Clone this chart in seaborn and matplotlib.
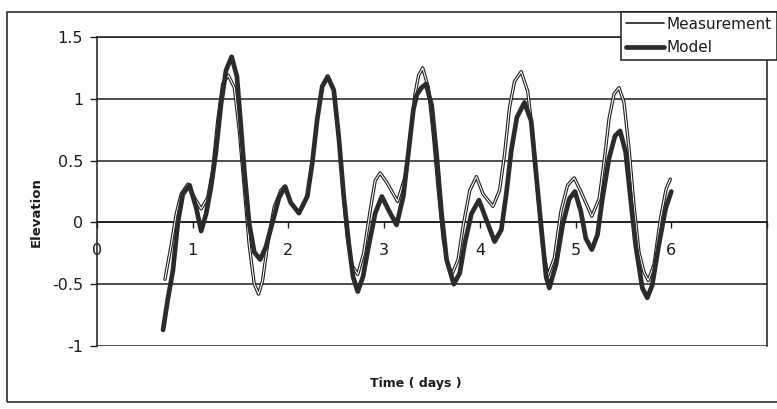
import numpy as np
import pandas as pd
import matplotlib
matplotlib.use("Agg")
import matplotlib.pyplot as plt
import matplotlib.patheffects as pe
from matplotlib.lines import Line2D
from matplotlib.patches import Rectangle
import seaborn as sns

# Measured water elevation (time in days, elevation)
meas_t = [0.71, 0.776, 0.828, 0.88, 0.95, 1.018, 1.088, 1.157, 1.209, 1.261,
          1.313, 1.372, 1.435, 1.487, 1.539, 1.59, 1.643, 1.688, 1.73, 1.782,
          1.85, 1.92, 1.96, 2.024, 2.11, 2.197, 2.249, 2.30, 2.353, 2.41,
          2.474, 2.526, 2.578, 2.613, 2.665, 2.724, 2.786, 2.855, 2.907, 2.959,
          3.03, 3.14, 3.219, 3.271, 3.323, 3.36, 3.403, 3.462, 3.514, 3.566,
          3.618, 3.67, 3.714, 3.773, 3.825, 3.895, 3.964, 4.033, 4.137, 4.206,
          4.258, 4.31, 4.362, 4.432, 4.50, 4.553, 4.605, 4.657, 4.71, 4.778,
          4.847, 4.916, 4.986, 5.055, 5.17, 5.246, 5.298, 5.35, 5.402, 5.454,
          5.506, 5.558, 5.61, 5.662, 5.714, 5.759, 5.82, 5.887, 5.946, 5.99]
meas_v = [-0.46, -0.18, 0.07, 0.23, 0.31, 0.20, 0.11, 0.20, 0.42, 0.82,
          1.12, 1.19, 1.09, 0.74, 0.28, -0.18, -0.50, -0.58, -0.47, -0.18,
          0.12, 0.26, 0.29, 0.16, 0.075, 0.21, 0.48, 0.83, 1.10, 1.18,
          1.07, 0.69, 0.21, -0.11, -0.35, -0.42, -0.25, 0.10, 0.34, 0.40,
          0.32, 0.17, 0.37, 0.69, 1.04, 1.19, 1.25, 1.09, 0.71, 0.26,
          -0.14, -0.36, -0.41, -0.30, -0.03, 0.26, 0.37, 0.23, 0.13, 0.26,
          0.55, 0.93, 1.14, 1.22, 1.06, 0.71, 0.23, -0.20, -0.43, -0.29,
          0.09, 0.30, 0.36, 0.25, 0.05, 0.19, 0.49, 0.84, 1.04, 1.09,
          0.97, 0.60, 0.14, -0.24, -0.40, -0.47, -0.34, 0.03, 0.27, 0.35]

# Simulated water elevation (time in days, elevation)
model_t = [0.69, 0.74, 0.793, 0.845, 0.897, 0.967, 1.036, 1.088, 1.14, 1.19,
           1.244, 1.296, 1.348, 1.407, 1.462, 1.504, 1.539, 1.59, 1.643, 1.705,
           1.764, 1.833, 1.902, 1.965, 2.024, 2.11, 2.197, 2.249, 2.30, 2.353,
           2.41, 2.474, 2.526, 2.578, 2.63, 2.675, 2.724, 2.779, 2.838, 2.907,
           2.976, 3.046, 3.13, 3.20, 3.253, 3.305, 3.34, 3.39, 3.437, 3.496,
           3.548, 3.60, 3.652, 3.728, 3.79, 3.842, 3.912, 3.991, 4.068, 4.154,
           4.224, 4.276, 4.328, 4.387, 4.466, 4.536, 4.588, 4.64, 4.692, 4.726,
           4.796, 4.865, 4.934, 4.993, 5.055, 5.107, 5.17, 5.229, 5.28, 5.35,
           5.412, 5.465, 5.523, 5.575, 5.627, 5.697, 5.749, 5.80, 5.87, 5.94,
           6.00]
model_v = [-0.87, -0.62, -0.39, 0.0, 0.23, 0.30, 0.12, -0.07, 0.07, 0.28,
           0.58, 0.96, 1.23, 1.34, 1.18, 0.77, 0.42, -0.01, -0.24, -0.30,
           -0.20, 0.0, 0.20, 0.29, 0.16, 0.075, 0.21, 0.48, 0.83, 1.10,
           1.18, 1.07, 0.69, 0.21, -0.17, -0.44, -0.56, -0.44, -0.19, 0.075,
           0.21, 0.10, -0.02, 0.21, 0.56, 0.91, 1.03, 1.09, 1.12, 0.95,
           0.55, 0.07, -0.30, -0.50, -0.41, -0.17, 0.07, 0.18, 0.02, -0.155,
           -0.06, 0.23, 0.58, 0.85, 0.97, 0.82, 0.39, -0.03, -0.44, -0.53,
           -0.34, -0.02, 0.19, 0.25, 0.09, -0.13, -0.22, -0.10, 0.19, 0.52,
           0.70, 0.74, 0.57, 0.19, -0.18, -0.53, -0.61, -0.51, -0.18, 0.11,
           0.25]

series_names = ["Measurement", "Model"]
x_ticks = [0, 1, 2, 3, 4, 5, 6, 7]
x_tick_labels = ["0", "1", "2", "3", "4", "5", "6", ""]
y_ticks = [-1, -0.5, 0, 0.5, 1, 1.5]
y_tick_labels = ["-1", "-0.5", "0", "0.5", "1", "1.5"]

sns.set_theme(style="white")
plt.rcParams["font.family"] = ["DejaVu Sans"]

W, H = 777, 409
fig = plt.figure(figsize=(W / 100, H / 100), dpi=100)
fig.patch.set_facecolor("white")

# plot area in pixel terms: x 97..767, y 37..346
ax = fig.add_axes([97 / W, (H - 346) / H, (767 - 97) / W, (346 - 37) / H])
ax.set_facecolor("white")

ink = "#1c1c1c"

meas_df = pd.DataFrame({"t": meas_t, "v": meas_v})
model_df = pd.DataFrame({"t": model_t, "v": model_v})

# thin outlined line for the measurement
sns.lineplot(data=meas_df, x="t", y="v", ax=ax, color=ink, lw=2.4,
             estimator=None, sort=True, zorder=3,
             path_effects=[pe.Stroke(linewidth=2.4, foreground=ink),
                           pe.Stroke(linewidth=0.8, foreground="white")])
# heavy line for the model
sns.lineplot(data=model_df, x="t", y="v", ax=ax, color="#2b2b2b", lw=3.4,
             estimator=None, sort=True, zorder=4, solid_joinstyle="round",
             solid_capstyle="round")

ax.set_xlim(0, 7)
ax.set_ylim(-1, 1.5)

# horizontal gridlines
ax.set_yticks(y_ticks)
ax.set_yticklabels(y_tick_labels)
ax.yaxis.grid(True, color=ink, lw=1.1)
ax.xaxis.grid(False)
ax.set_axisbelow(True)

# category axis crosses at zero
ax.spines["bottom"].set_position(("data", 0))
for s in ["left", "right", "top", "bottom"]:
    ax.spines[s].set_visible(True)
    ax.spines[s].set_color(ink)
    ax.spines[s].set_linewidth(1.1)

ax.set_xticks(x_ticks)
ax.set_xticklabels(x_tick_labels)
ax.tick_params(axis="x", direction="out", length=4, width=1, colors=ink,
               labelsize=11.5, pad=11, bottom=True)
ax.tick_params(axis="y", direction="out", length=5, width=1, colors=ink,
               labelsize=11.5, pad=5, left=True)

ax.set_xlabel("Time ( days )", fontsize=9, fontweight="bold", color=ink)
ax.xaxis.set_label_coords((416 - 97) / (767 - 97), (346 - 377) / (346 - 37))
ax.set_ylabel("Elevation", fontsize=9.5, fontweight="bold", color=ink)
ax.yaxis.set_label_coords((36 - 97) / (767 - 97), (346 - 212) / (346 - 37))
ax.yaxis.label.set_va("center")

# outer chart border
fig.patches.append(Rectangle((7 / W, (H - 402) / H), 1.2, (402 - 12) / H,
                             transform=fig.transFigure, fill=False,
                             edgecolor=ink, lw=1.1, zorder=0))

handles = [Line2D([], [], color=ink, lw=1.2),
           Line2D([], [], color="#2b2b2b", lw=3.4)]
leg = fig.legend(handles, series_names, loc="upper left",
                 bbox_to_anchor=(621 / W, 1 - 12 / H), frameon=True,
                 fancybox=False, edgecolor=ink, framealpha=1, borderpad=0.3,
                 handlelength=2.5, handletextpad=0.2, labelspacing=0.55,
                 fontsize=11, borderaxespad=0)
leg.get_frame().set_linewidth(1.1)
for t in leg.get_texts():
    t.set_color(ink)

fig.savefig("out.png", dpi=100)
